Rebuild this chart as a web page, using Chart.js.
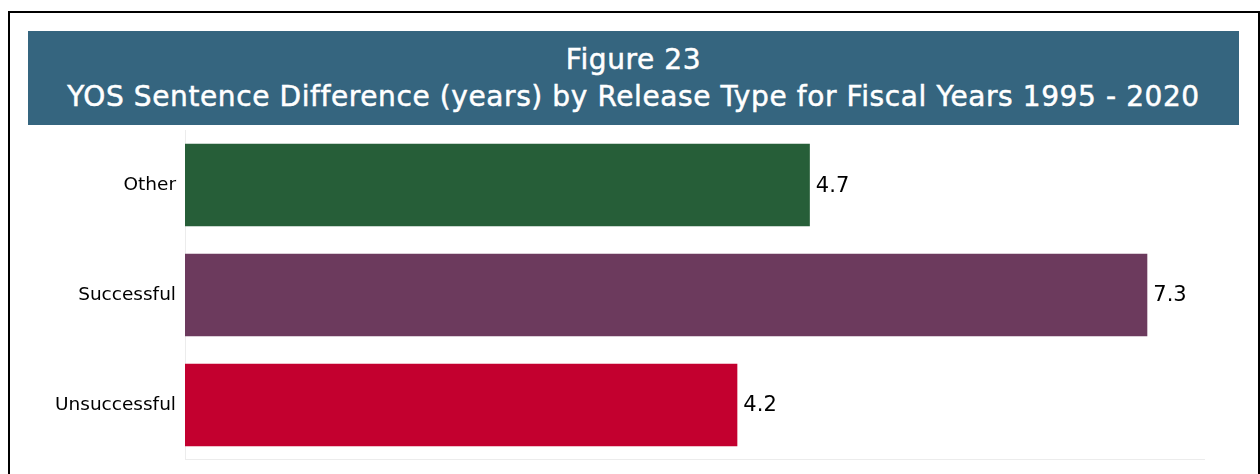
<!DOCTYPE html>
<html>
<head>
<meta charset="utf-8">
<script src="https://cdn.jsdelivr.net/npm/chart.js@4/dist/chart.umd.min.js"></script>
<style>
  body { margin: 0; background: #fff; width: 1260px; height: 474px; overflow: hidden; position: relative; }
  #frame { position: absolute; left: 8px; top: 11px; width: 1248px; height: 480px; border: 2px solid #000; }
  #banner { position: absolute; left: 28px; top: 31px; width: 1211px; height: 94px; background: #35657f;
    color: #fff; text-align: center; font-family: "DejaVu Sans", sans-serif; -webkit-text-stroke: 0.5px #fff; }
  #banner .l1 { position: absolute; left: 0; right: 0; top: 13px; font-size: 28px; line-height: 32px; letter-spacing: 0.6px; }
  #banner .l2 { position: absolute; left: 0; right: 0; top: 50px; font-size: 28px; line-height: 32px; letter-spacing: 0.6px; }
  #wrap { position: absolute; left: 0; top: 110px; width: 1260px; height: 370px; }
</style>
</head>
<body>
<div id="frame"></div>
<div id="banner">
  <div class="l1">Figure 23</div>
  <div class="l2">YOS Sentence Difference (years) by Release Type for Fiscal Years 1995 - 2020</div>
</div>
<div id="wrap"><canvas id="chart"></canvas></div>
<script>
// release types and sentence difference in years
const categories = ["Other", "Successful", "Unsuccessful"];
const values = [4.74, 7.3, 4.19];
const barColors = ["#265e38", "#6c3a5d", "#c3002f"];
const axisMax = 7.73;

// draw the value next to each bar
const valueLabels = {
  id: 'valueLabels',
  afterDatasetsDraw(chart) {
    const ctx = chart.ctx;
    const meta = chart.getDatasetMeta(0);
    ctx.save();
    ctx.font = '21px "DejaVu Sans", sans-serif';
    ctx.fillStyle = '#000';
    ctx.textBaseline = 'middle';
    ctx.textAlign = 'left';
    meta.data.forEach((bar, i) => {
      ctx.fillText(values[i].toFixed(1), bar.x + 6, bar.y + 1);
    });
    ctx.restore();
  }
};

new Chart(document.getElementById("chart"), {
  type: 'bar',
  data: {
    labels: categories,
    datasets: [{
      data: values,
      backgroundColor: barColors,
      barPercentage: 0.75,
      categoryPercentage: 1
    }]
  },
  options: {
    indexAxis: 'y',
    responsive: true,
    maintainAspectRatio: false,
    animation: false,
    layout: { padding: { top: 0, right: 56, bottom: 0, left: 0 } },
    plugins: { legend: { display: false }, tooltip: { enabled: false } },
    scales: {
      x: {
        min: 0, max: axisMax,
        ticks: { display: false },
        grid: { display: false, drawTicks: false },
        border: { display: true, color: '#ececec', width: 1 }
      },
      y: {
        ticks: { color: '#000', padding: 9, font: { family: '"DejaVu Sans", sans-serif', size: 18.5, lineHeight: 1.2 } },
        grid: { display: false, drawTicks: false },
        border: { display: true, color: '#ececec', width: 1 },
        afterFit(scale) { scale.width = 185; }
      }
    }
  },
  plugins: [valueLabels]
});
</script>
</body>
</html>
